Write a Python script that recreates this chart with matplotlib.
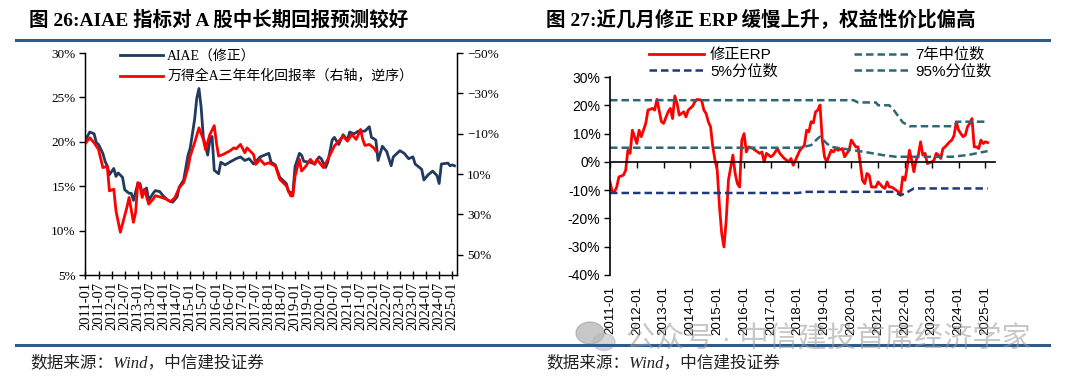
import numpy as np
import matplotlib
matplotlib.use('Agg')
import matplotlib.pyplot as plt
from matplotlib.lines import Line2D
from matplotlib.patches import Ellipse
from matplotlib.ticker import FuncFormatter

# ~ ~ ~ data (x = months since 2011-01) ~ ~ ~
# fig 26: AIAE (left axis) and Wind All-A 3y annualised return (right axis, inverted)
aiae_m = [0, 2, 4, 5, 6, 8, 9, 10, 11, 13, 14, 15, 17, 18, 20, 21, 22, 24, 25, 26,
          28, 29, 31, 32, 34, 36, 38, 40, 42, 43, 45, 47, 48, 50, 51, 52, 53, 54, 56, 57,
          58, 59, 61, 62, 64, 66, 69, 71, 73, 75, 77, 80, 82, 84, 85, 87, 89, 92, 93, 95,
          96, 98, 99, 100, 103, 105, 107, 108, 110, 111, 113, 114, 116, 118, 120, 121, 123, 125, 128, 130,
          131, 133, 134, 136, 138, 140, 141, 144, 146, 148, 150, 151, 154, 155, 157, 159, 161, 162, 163, 166,
          167, 168, 169]
aiae_v = [20.2, 21.1, 20.9, 19.9, 19.7, 18.7, 17.8, 17.3, 16.3, 17.0, 16.1, 16.5, 16.0, 14.6, 14.2, 14.2, 13.4, 15.3, 15.3, 14.2,
          14.8, 13.4, 14.2, 14.5, 14.4, 13.8, 13.4, 13.2, 13.8, 14.9, 15.7, 18.5, 19.3, 22.5, 24.9, 26.0, 23.9, 20.5, 18.5, 20.2,
          20.6, 16.8, 16.4, 17.7, 17.4, 17.7, 18.1, 18.3, 17.9, 18.1, 17.5, 18.3, 18.5, 18.7, 17.7, 17.4, 16.0, 15.3, 14.4, 14.2,
          17.2, 18.7, 18.5, 17.8, 17.7, 17.5, 18.3, 18.1, 17.1, 17.7, 20.2, 20.5, 19.7, 20.8, 20.2, 21.1, 20.9, 21.2, 21.2, 21.7,
          20.5, 20.2, 17.9, 19.5, 18.9, 17.3, 18.3, 19.0, 18.7, 18.1, 18.3, 17.5, 16.9, 15.7, 16.3, 16.7, 16.2, 15.3, 17.5, 17.6,
          17.3, 17.4, 17.3]

ret_m = [0, 2, 4, 6, 8, 10, 11, 13, 14, 16, 17, 19, 20, 22, 23, 24, 25, 26, 27, 29,
         31, 32, 35, 37, 39, 41, 43, 45, 47, 48, 50, 52, 54, 55, 57, 59, 60, 61, 63, 66,
         68, 69, 71, 73, 74, 77, 78, 80, 82, 84, 87, 89, 92, 94, 95, 96, 98, 99, 101, 103,
         105, 106, 109, 111, 114, 116, 118, 120, 122, 124, 126, 127, 128, 130, 132, 133]
ret_v = [-5.2, -8.0, -5.5, -2.2, 6.8, 6.1, 18.3, 17.5, 28.2, 38.8, 34.7, 26.5, 21.6, 33.9, 28.9, 14.2, 15.8, 21.6, 17.5, 24.9,
         22.4, 20.7, 21.6, 22.4, 23.7, 21.6, 16.7, 14.2, 6.8, 1.1, -5.5, -12.9, -7.2, -2.2, -9.6, -14.0, -5.5, 1.1, 0.3, -1.4,
         -3.0, -2.5, -4.7, -0.6, -3.0, 0.3, 5.2, 2.7, 5.2, 4.4, 6.0, 12.6, 15.8, 20.8, 20.8, 11.0, 2.7, 8.5, 6.0, 2.7,
         5.2, 2.7, 6.8, 2.7, -3.9, -6.3, -8.8, -6.3, -9.6, -7.2, -12.1, -7.2, -4.2, -4.7, -3.0, -1.4]

# fig 27: adjusted ERP with rolling 7y median and 5% / 95% quantiles
erp_m = [0, 1, 2, 3, 4, 6, 7, 8, 9, 10, 12, 13, 14, 16, 17, 19, 20, 21, 23, 24,
         26, 27, 28, 29, 30, 31, 33, 34, 35, 37, 38, 39, 41, 42, 43, 44, 45, 46, 47, 48,
         49, 50, 51, 52, 53, 55, 56, 57, 58, 59, 60, 61, 62, 64, 65, 67, 68, 69, 70, 72,
         73, 75, 76, 78, 80, 81, 82, 84, 85, 87, 88, 89, 90, 91, 92, 93, 94, 95, 96, 97,
         99, 100, 101, 102, 104, 105, 106, 107, 108, 110, 111, 112, 113, 114, 115, 116, 117, 119, 120, 122,
         123, 124, 125, 126, 127, 129, 130, 131, 132, 133, 134, 135, 136, 137, 138, 139, 140, 141, 142, 144,
         145, 146, 147, 148, 149, 150, 152, 153, 154, 155, 156, 157, 158, 159, 160, 161, 162, 163, 164, 165,
         166, 167, 168, 169]
erp_v = [-7.1, -10.6, -10.6, -8.9, -5.3, -4.7, -3.0, 4.1, 3.0, 11.2, 6.5, 11.2, 8.9, 13.6, 18.3, 18.9, 18.3, 22.1, 14.2, 13.6,
         17.7, 18.9, 15.3, 23.3, 20.7, 16.5, 17.7, 15.9, 18.3, 19.7, 21.3, 22.1, 21.8, 18.3, 17.1, 14.2, 12.4, 5.3, 0.6, -3.0,
         -15.9, -25.4, -30.1, -20.7, -6.5, 2.4, -4.1, -7.7, -8.9, 7.7, 10.0, 3.5, 5.3, 4.7, 4.1, 3.0, 3.5, 0.0, 3.0, 1.8,
         2.4, 4.7, 3.0, 1.2, 0.0, 1.2, -1.2, 2.4, 4.1, 5.9, 11.2, 10.6, 14.2, 13.8, 17.7, 18.3, 20.1, 7.7, 1.8, 0.0,
         4.1, 3.5, 4.7, 4.1, 4.7, 1.8, 3.0, 4.1, 7.7, 5.3, 5.3, -0.6, -6.5, -7.7, -4.1, -4.7, -8.9, -8.9, -7.1, -8.9,
         -9.4, -7.1, -8.9, -8.9, -9.4, -10.6, -11.8, -5.3, -6.5, -1.8, 4.1, 0.6, -3.5, 0.6, 2.4, 7.1, 2.4, 3.0, -0.6, 0.0,
         0.6, 3.0, 2.4, 1.2, 4.7, 5.3, 7.1, 7.7, 9.4, 14.2, 11.2, 10.0, 8.9, 9.4, 12.4, 13.6, 15.3, 5.3, 5.3, 4.7,
         7.7, 6.5, 7.1, 6.8]

med_m = [0, 85, 90, 93, 94, 97, 99, 104, 114, 122, 128, 153, 160, 169]
med_v = [5.0, 5.0, 5.9, 8.3, 8.9, 6.5, 5.3, 4.7, 3.5, 2.4, 1.8, 1.8, 2.4, 3.8]
p95_m = [0, 109, 111, 119, 120, 125, 127, 131, 134, 153, 156, 169]
p95_v = [21.8, 21.8, 21.0, 21.0, 20.0, 20.0, 18.3, 14.0, 12.6, 12.6, 14.2, 14.2]
p5_m = [0, 84, 88, 127, 130, 132, 136, 169]
p5_v = [-11.0, -11.0, -10.6, -10.6, -11.8, -11.2, -9.4, -9.4]

left_ticks = list(range(0, 169, 6))
left_labels = [f'{2011 + t // 12}-{t % 12 + 1:02d}' for t in left_ticks]
right_ticks = list(range(0, 169, 12))
right_labels = [f'{2011 + t // 12}-01' for t in right_ticks]

# ~ ~ ~ figure ~ ~ ~
W, H = 1080, 383
SERIF = ['Liberation Serif', 'Noto Sans CJK SC']
SANS = ['Liberation Sans', 'Noto Sans CJK SC']
NAVY = '#203B5E'
RED = '#FF0000'
TEAL = '#2F6676'
DBLUE = '#1E3A7B'
RULE = '#2C5C8A'


def box(l, t, r, b):
    return [l / W, 1 - b / H, (r - l) / W, (b - t) / H]


fig = plt.figure(figsize=(W / 100, H / 100), dpi=100)

# titles, rules, sources
fig.text(29 / W, 1 - 20 / H, '图 26:AIAE 指标对 A 股中长期回报预测较好', family=SERIF,
         fontsize=14, weight='bold', va='center', ha='left')
fig.text(546 / W, 1 - 20 / H, '图 27:近几月修正 ERP 缓慢上升，权益性价比偏高', family=SERIF,
         fontsize=14, weight='bold', va='center', ha='left')
for yy in (40, 345):
    fig.add_artist(Line2D([16 / W, 1049 / W], [1 - yy / H] * 2, color=RULE, lw=2.2))
for xx in (30, 546):
    fig.text(xx / W, 1 - 363 / H, '数据来源：Wind，中信建投证券', family=SERIF, style='italic',
             fontsize=12, va='center', ha='left', color='#222222')

# watermark
fig.text(626 / W, 1 - 338 / H, '公众号 · 中信建投首席经济学家', family=SANS, fontsize=21,
         color='#9A9A9A', alpha=0.55, va='center', ha='left')
fig.add_artist(Ellipse((590 / W, 1 - 333 / H), 28 / W, 22 / H, color='#9A9A9A', alpha=0.55))
fig.add_artist(Ellipse((604 / W, 1 - 342 / H), 22 / W, 17 / H, color='#B5B5B5', alpha=0.55))

# ---- left chart ----
ax1 = fig.add_axes(box(85.4, 53, 457.3, 275))
l1, = ax1.plot(aiae_m, aiae_v, color=NAVY, lw=2.0, label='AIAE（修正）')
ax1.set_ylim(5, 30)
ax1.set_yticks(range(5, 31, 5))
ax1.yaxis.set_major_formatter(FuncFormatter(lambda v, p: f'{v:.0f}%'))
ax1.set_xlim(0, 170.3)
ax1.set_xticks(left_ticks)
ax1.set_xticklabels(left_labels, rotation=90, family=SERIF, fontsize=10.5)
ax1.tick_params(axis='x', direction='inout', length=6, width=1, pad=2)
ax1.tick_params(axis='y', direction='out', length=4, width=1, labelsize=9.5, pad=3)
for lab in ax1.get_yticklabels():
    lab.set_family(SERIF)
for s in ax1.spines.values():
    s.set_linewidth(1.0)
ax1.spines['top'].set_visible(False)

ax1r = ax1.twinx()
l2, = ax1r.plot(ret_m, ret_v, color=RED, lw=2.0, label='万得全A三年年化回报率（右轴，逆序）')
ax1r.set_ylim(60, -50)
ax1r.set_yticks(range(-50, 51, 20))
ax1r.yaxis.set_major_formatter(FuncFormatter(lambda v, p: f'{v:.0f}%'.replace('-', '\u2212')))
ax1r.tick_params(axis='y', direction='out', length=4, width=1, labelsize=9.5, pad=3)
for lab in ax1r.get_yticklabels():
    lab.set_family(SERIF)
ax1r.spines['top'].set_visible(False)

ax1r.legend(handles=[l1, l2], loc='upper left', bbox_to_anchor=(120 / W, 1 - 50 / H),
            bbox_transform=fig.transFigure, frameon=False, borderpad=0, borderaxespad=0,
            handlelength=3.1, handletextpad=0.3, labelspacing=0.45,
            prop={'family': SERIF, 'size': 10})

# ---- right chart ----
ax2 = fig.add_axes(box(610, 77, 995, 275))
ax2.plot(erp_m, erp_v, color=RED, lw=2.0, label='修正ERP')
ax2.plot(med_m, med_v, color=TEAL, lw=1.8, ls=(0, (3, 1.6)), label='7年中位数')
ax2.plot(p5_m, p5_v, color=DBLUE, lw=1.8, ls=(0, (3, 1.6)), label='5%分位数')
ax2.plot(p95_m, p95_v, color=TEAL, lw=1.8, ls=(0, (3, 1.6)), label='95%分位数')
ax2.set_ylim(-40, 30)
ax2.set_yticks(range(-40, 31, 10))
ax2.yaxis.set_major_formatter(FuncFormatter(lambda v, p: f'{v:.0f}%'))
ax2.set_xlim(0, 172.3)
for side in ('top', 'right'):
    ax2.spines[side].set_visible(False)
ax2.spines['left'].set_linewidth(1.2)
ax2.spines['bottom'].set_position(('data', 0))
ax2.spines['bottom'].set_linewidth(1.2)
ax2.set_xticks(right_ticks)
ax2.tick_params(axis='x', direction='out', length=4, width=1, labelbottom=False)
ax2.tick_params(axis='y', direction='out', length=4, width=1, labelsize=10, pad=3)
for lab in ax2.get_yticklabels():
    lab.set_family(SANS)

sec = ax2.secondary_xaxis('bottom')
sec.set_xticks(right_ticks)
sec.set_xticklabels(right_labels, rotation=90, family=SANS, fontsize=9.5)
sec.tick_params(length=0, pad=8)
sec.spines['bottom'].set_visible(False)

h, lb = ax2.get_legend_handles_labels()
order = [0, 2, 1, 3]
ax2.legend([h[i] for i in order], [lb[i] for i in order], ncol=2, loc='upper left',
           bbox_to_anchor=(649 / W, 1 - 48 / H), bbox_transform=fig.transFigure,
           frameon=False, borderpad=0, borderaxespad=0, handlelength=3.6,
           handletextpad=0.4, labelspacing=0.15, columnspacing=5.0,
           prop={'family': SANS, 'size': 11})

fig.savefig('out.png', dpi=100)
